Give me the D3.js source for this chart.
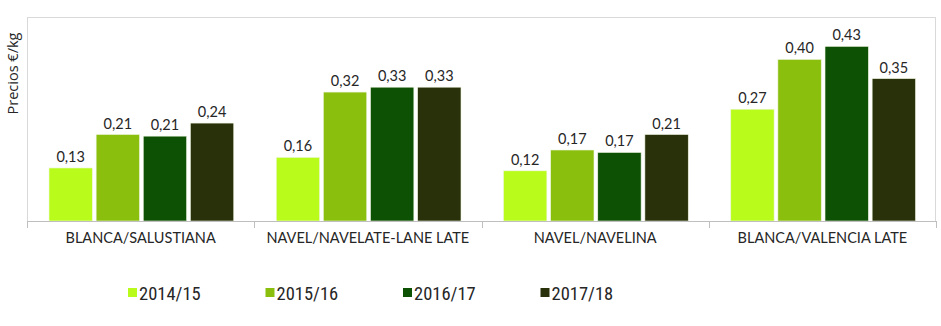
<!DOCTYPE html>
<html><head><meta charset="utf-8">
<script src="https://cdn.jsdelivr.net/npm/d3@7"></script>
<style>
html,body{margin:0;padding:0;background:#fff;}
svg{display:block;}
</style></head>
<body>
<script>
const categories = ["BLANCA/SALUSTIANA","NAVEL/NAVELATE-LANE LATE","NAVEL/NAVELINA","BLANCA/VALENCIA LATE"];
const seasons = ["2014/15","2015/16","2016/17","2017/18"];
const v2014_15 = [0.130, 0.156, 0.123, 0.274];
const v2015_16 = [0.212, 0.316, 0.174, 0.396];
const v2016_17 = [0.208, 0.328, 0.168, 0.428];
const v2017_18 = [0.240, 0.328, 0.212, 0.349];
const seriesValues = [v2014_15, v2015_16, v2016_17, v2017_18];
const colors = ["#b9fc1c", "#8abf0d", "#0d5104", "#28310a"];
const yTitle = "Precios €/kg";
const yDomain = [0, 0.5];

const W = 941, H = 326;
const plot = {left: 27, right: 936, top: 17, bottom: 221};

const svg = d3.select("body").append("svg").attr("width", W).attr("height", H);

const x0 = d3.scaleBand().domain(categories).range([plot.left, plot.right]).paddingInner(0).paddingOuter(0);
const x1 = d3.scaleBand().domain(seasons).range([22, x0.bandwidth() - 20.5]).paddingInner(0.08).paddingOuter(0);
const y = d3.scaleLinear().domain(yDomain).range([plot.bottom, plot.top]);

// plot border
svg.append("rect").attr("x", plot.left + 0.5).attr("y", plot.top + 0.5)
  .attr("width", plot.right - plot.left - 1).attr("height", plot.bottom - plot.top)
  .attr("fill", "none").attr("stroke", "#d9d9d9").attr("stroke-width", 1);

// bars
const data = [];
categories.forEach((c, ci) => seasons.forEach((s, si) => data.push({c, s, si, v: seriesValues[si][ci]})));

const g = svg.append("g");
g.selectAll("rect.bar").data(data).join("rect").attr("class", "bar")
  .attr("x", d => x0(d.c) + x1(d.s))
  .attr("y", d => y(d.v))
  .attr("width", x1.bandwidth())
  .attr("height", d => y(0) - y(d.v))
  .attr("fill", d => colors[d.si])
  .attr("stroke", "#eef5e0").attr("stroke-width", 0.6);

g.selectAll("text.val").data(data).join("text").attr("class", "val")
  .attr("x", d => x0(d.c) + x1(d.s) + x1.bandwidth() / 2)
  .attr("y", d => y(d.v) - 6)
  .attr("text-anchor", "middle")
  .attr("font-family", "Lato, 'Open Sans', sans-serif")
  .attr("font-size", 14.5)
  .attr("fill", "#262626")
  .text(d => d.v.toFixed(2).replace(".", ","));

// x axis
const xAxis = d3.axisBottom(x0).tickSize(0).tickPadding(0);
const ax = svg.append("g").attr("transform", `translate(0,${plot.bottom})`).call(xAxis);
ax.select(".domain").attr("stroke", "#bfbfbf").attr("d", `M${plot.left},0.5H${plot.right}`);
ax.selectAll(".tick text").attr("y", 22).attr("dy", "0")
  .attr("font-family", "Lato, 'Open Sans', sans-serif").attr("font-size", 14.5).attr("fill", "#262626");
// category separator ticks
const bounds = categories.map(c => x0(c)).concat([plot.right]);
svg.append("g").selectAll("line").data(bounds).join("line")
  .attr("x1", d => Math.round(d) + 0.5).attr("x2", d => Math.round(d) + 0.5)
  .attr("y1", plot.bottom).attr("y2", plot.bottom + 7)
  .attr("stroke", "#bfbfbf");

// y title
svg.append("text")
  .attr("transform", `translate(18,${(plot.top + 130) / 2}) rotate(-90)`)
  .attr("text-anchor", "middle")
  .attr("font-family", "'Open Sans', sans-serif").attr("font-size", 14.5).attr("fill", "#262626")
  .text(yTitle);

// legend
const leg = svg.append("g").selectAll("g").data(seasons).join("g")
  .attr("transform", (d, i) => `translate(${128 + i * 137.5},0)`);
leg.append("rect").attr("x", 0).attr("y", 288).attr("width", 9).attr("height", 9)
  .attr("fill", (d, i) => colors[i]);
leg.append("text").attr("x", 11).attr("y", 300)
  .attr("font-family", "'Liberation Sans Narrow', 'Roboto Condensed', Roboto, sans-serif")
  .attr("font-size", 18.5).attr("fill", "#262626")
  .text(d => d);
</script>
</body></html>
